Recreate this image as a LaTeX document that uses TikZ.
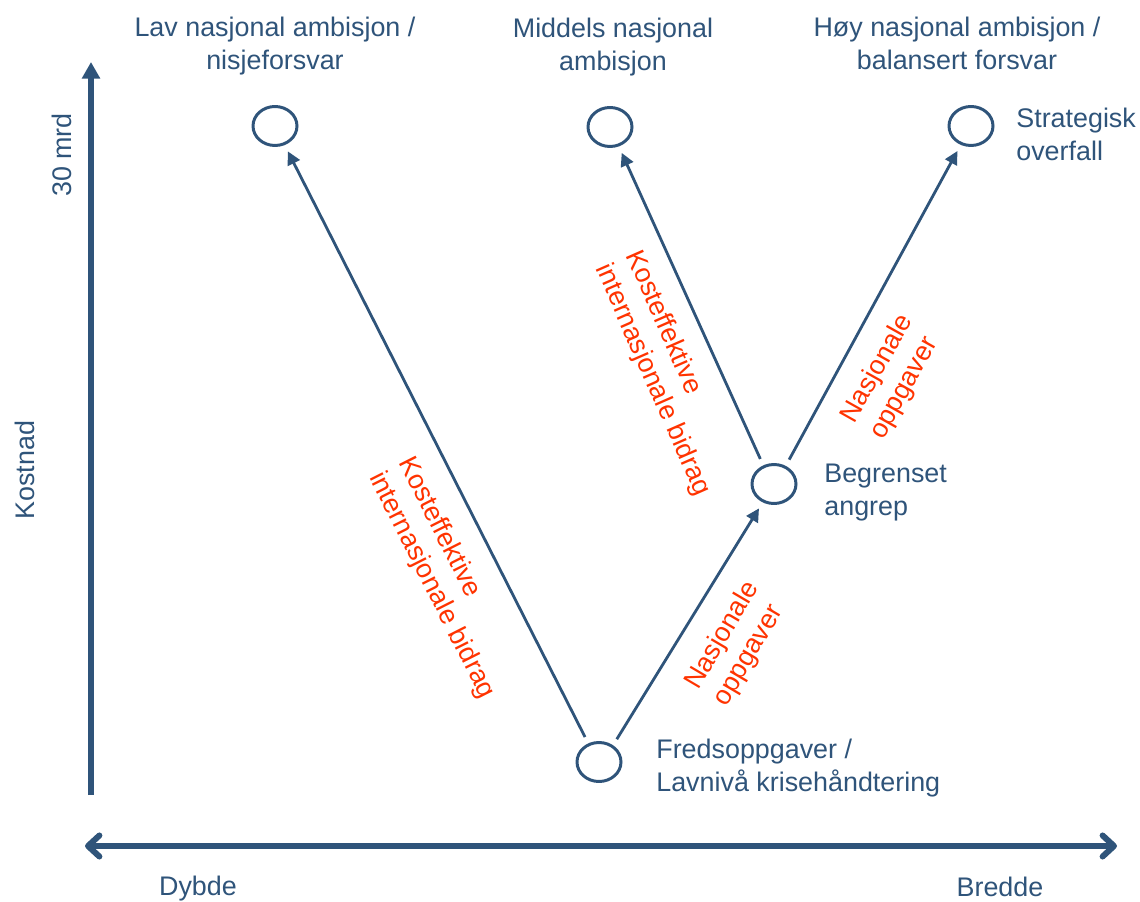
\documentclass[tikz,border=0pt]{standalone}
\usepackage{fontspec}
\setmainfont{Liberation Sans}
\usetikzlibrary{arrows.meta,shapes.geometric,positioning}
\definecolor{blu}{RGB}{47,84,122}
\definecolor{rosso}{RGB}{255,51,0}

\begin{document}
\begin{tikzpicture}[x=0.02cm, y=-0.02cm,
    nodo/.style={ellipse, draw=blu, line width=1.7pt, minimum width=0.88cm, minimum height=0.78cm, inner sep=0pt},
    freccia/.style={draw=blu, line width=1.6pt, -{Triangle[length=7.5pt,width=7.5pt]}, shorten <=4pt, shorten >=4pt},
    testo/.style={text=blu, font=\fontsize{15.3}{18.7}\selectfont, inner sep=0pt},
    etich/.style={text=rosso, font=\fontsize{15.3}{18.7}\selectfont, inner sep=0pt, align=left, anchor=north west}]
    \useasboundingbox (0,0) rectangle (1140,902);

    % Assi
    \coordinate (ybase) at (91,795);
    \coordinate (ytop) at (91,62);
    \coordinate (xsx) at (85,846);
    \coordinate (xdx) at (1117,846);
    \draw[blu, line width=3.4pt, -{Triangle[length=9.5pt,width=10pt]}] (ybase) -- (ytop);
    \draw[blu, line width=3.4pt, {Straight Barb[length=6.5pt,width=12pt,round]}-{Straight Barb[length=6.5pt,width=12pt,round]}] (xsx) -- (xdx);
    \node[testo] (dybde) at (198,889) {Dybde};
    \node[testo] (bredde) at (1000,887) {Bredde};
    \node[testo, rotate=90] (kost) at (25,470) {Kostnad};
    \node[testo, rotate=90] (mrd) at (62,155) {30 mrd};

    % Scenari
    \node[nodo] (lav) at (275,126) {};
    \node[nodo] (mid) at (610,127) {};
    \node[nodo] (hoy) at (971,126) {};
    \node[nodo] (beg) at (774,484) {};
    \node[nodo] (fred) at (599,762) {};

    % Titoli in alto
    \node[testo, align=center, anchor=north] (tlav) at (275,17) {Lav nasjonal ambisjon /\\nisjeforsvar};
    \node[testo, align=center, anchor=north] (tmid) at (613,18) {Middels nasjonal\\ambisjon};
    \node[testo, align=center, anchor=north] (thoy) at (957,17) {Høy nasjonal ambisjon /\\balansert forsvar};

    % Etichette dei nodi
    \node[testo, align=left, anchor=north west] (tfred) at (656,739) {Fredsoppgaver /\\Lavnivå krisehåndtering};
    \node[testo, align=left, anchor=north west] (tbeg) at (824,464) {Begrenset\\angrep};
    \node[testo, align=left, anchor=north west] (tstr) at (1016,108) {Strategisk\\overfall};

    % Frecce
    \draw[freccia] (fred.120) -- (lav);
    \draw[freccia] (fred.50) -- (beg);
    \draw[freccia] (beg.120) -- (mid);
    \draw[freccia] (beg.57) -- (hoy);

    % Etichette rosse
    \node[etich, rotate=-63.2] (k1) at (416,453) {Kosteffektive\\internasjonale bidrag};
    \node[etich, rotate=-66.3] (k2) at (644,247) {Kosteffektive\\internasjonale bidrag};
    \node[etich, rotate=60.7] (n2) at (837,415) {Nasjonale\\oppgaver};
    \node[etich, rotate=59.5] (n1) at (681,681) {Nasjonale\\oppgaver};
\end{tikzpicture}
\end{document}
